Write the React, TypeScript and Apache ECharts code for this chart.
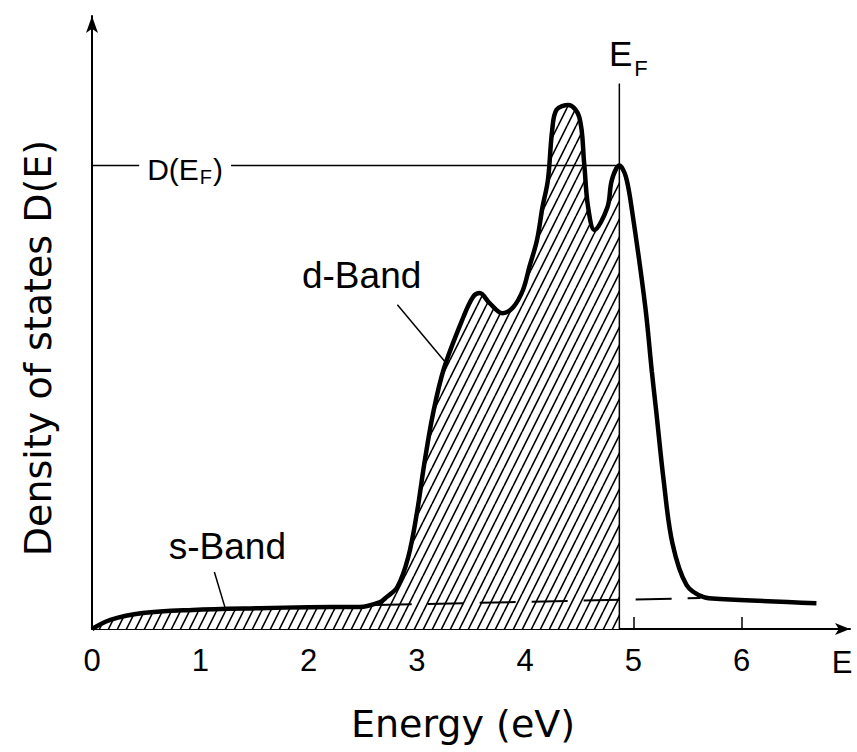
import React, { useEffect, useRef } from 'react';
import * as echarts from 'echarts';

// Energy (eV) and density of states (arbitrary units, 0..100)
const energy = [0, 0.17, 0.47, 0.93, 1.55, 2.0, 2.47, 2.66, 2.72, 2.82, 2.92, 3.0, 3.07, 3.15, 3.25, 3.43, 3.52, 3.58, 3.67, 3.79, 3.89, 3.98, 4.04, 4.11, 4.16, 4.21, 4.25, 4.29, 4.40, 4.50, 4.545, 4.58, 4.64, 4.76, 4.80, 4.87, 4.93, 4.99, 5.11, 5.17, 5.21, 5.28, 5.36, 5.49, 5.65, 5.80, 6.69];
const dos = [0, 1.5, 2.6, 3.1, 3.4, 3.55, 3.6, 4.4, 5.2, 6.85, 11.7, 18.9, 27.1, 35.2, 42.5, 50.9, 54.2, 54.8, 53.2, 51.5, 52.5, 55.3, 59.1, 63.5, 68.8, 73.2, 81.4, 84.7, 85.5, 83.5, 76.0, 69.0, 65.1, 68.8, 73.2, 75.6, 73.8, 67.9, 52.5, 42.0, 35.6, 24.1, 14.0, 7.2, 5.2, 4.9, 4.2];

// s-band continuation (dashed)
const sBandX = [2.62, 5.62];
const sBandY = [3.9, 5.05];

// Fermi energy and D(E_F)
const EF = 4.87;
const DEF = 75.6;
const EFLineTop = 89;

const xTicks = [0, 1, 2, 3, 4, 5, 6];

// annotation anchors (data coordinates)
const dBandLabel = [2.49, 57.6];
const sBandLabel = [1.25, 13.4];
const dBandLeader = [[2.82, 52.9], [3.26, 43.6]];
const sBandLeader = [[1.13, 9.3], [1.23, 3.4]];
const defLabel = [0.86, DEF];

function makeHatch() {
  const c = document.createElement('canvas');
  c.width = 9;
  c.height = 18;
  const ctx = c.getContext('2d')!;
  ctx.fillStyle = '#fff';
  ctx.fillRect(0, 0, 9, 18);
  ctx.strokeStyle = '#000';
  ctx.lineWidth = 1.6;
  ctx.beginPath();
  for (const dx of [-9, 0, 9]) {
    ctx.moveTo(dx, 18);
    ctx.lineTo(dx + 9, 0);
  }
  ctx.stroke();
  return c;
}

const TICK_FONT = 'Liberation Sans';
const TITLE_FONT = 'DejaVu Sans';
const plainLabel = { color: '#000', textBorderWidth: 0, textBorderColor: 'transparent', textShadowBlur: 0, opacity: 1 };

export default function App() {
  const ref = useRef<HTMLDivElement>(null);
  useEffect(() => {
    if (!ref.current) return;
    const chart = echarts.init(ref.current, null, { renderer: 'svg' });
    const curve = energy.map((e, i) => [e, dos[i]]);
    const filled = curve.filter((p) => p[0] <= EF + 1e-9);
    const hatch = makeHatch();
    const option: any = {
      animation: false,
      backgroundColor: '#fff',
      grid: { left: 92, right: 7, top: 16, bottom: 123 },
      xAxis: {
        type: 'value',
        min: 0,
        max: 7,
        interval: 1,
        axisLine: { show: true, onZero: true, symbol: ['none', 'arrow'], symbolSize: [9, 15], lineStyle: { color: '#000', width: 2 } },
        axisTick: { show: true, inside: true, length: 12, customValues: [1, 2, 3, 4, 5, 6], lineStyle: { color: '#000', width: 1.5 } },
        axisLabel: {
          customValues: xTicks,
          color: '#000',
          fontSize: 31,
          fontFamily: TICK_FONT,
          margin: 16,
          formatter: (v: number) => (v <= 6 ? String(v) : ''),
        },
        splitLine: { show: false },
      },
      yAxis: {
        type: 'value',
        min: 0,
        max: 100,
        axisLine: { show: true, symbol: ['none', 'arrow'], symbolSize: [9, 17], lineStyle: { color: '#000', width: 2 } },
        axisTick: { show: false },
        axisLabel: { show: false },
        splitLine: { show: false },
      },
      graphic: [
        {
          type: 'text',
          x: 463,
          y: 724,
          style: { text: 'Energy (eV)', fontSize: 38, fontFamily: TITLE_FONT, fill: '#000', textAlign: 'center', align: 'center', textVerticalAlign: 'middle', verticalAlign: 'middle' },
        },
        {
          type: 'text',
          x: 38,
          y: 348,
          rotation: Math.PI / 2,
          style: { text: 'Density of states D(E)', fontSize: 38, fontFamily: TITLE_FONT, fill: '#000', textAlign: 'center', align: 'center', textVerticalAlign: 'middle', verticalAlign: 'middle' },
        },
        {
          type: 'text',
          x: 842,
          y: 662,
          style: { text: 'E', fontSize: 31, fontFamily: TICK_FONT, fill: '#000', textAlign: 'center', align: 'center', textVerticalAlign: 'middle', verticalAlign: 'middle' },
        },
      ],
      series: [
        {
          type: 'line',
          data: filled,
          smooth: 0.35,
          symbol: 'none',
          silent: true,
          lineStyle: { width: 0, opacity: 0 },
          areaStyle: { color: { image: hatch, repeat: 'repeat', imageWidth: 9, imageHeight: 18 }, opacity: 1 },
          z: 1,
        },
        {
          type: 'line',
          data: sBandX.map((x, i) => [x, sBandY[i]]),
          symbol: 'none',
          silent: true,
          lineStyle: { color: '#000', width: 2, type: [36, 16] },
          z: 2,
        },
        {
          type: 'line',
          data: curve,
          smooth: 0.35,
          symbol: 'none',
          silent: true,
          lineStyle: { color: '#000', width: 4.5 },
          z: 3,
        },
        {
          type: 'line',
          data: [[EF, 0], [EF, EFLineTop]],
          symbol: 'none',
          silent: true,
          lineStyle: { color: '#000', width: 1.5 },
          z: 4,
        },
        {
          type: 'line',
          data: [[0, DEF], [EF, DEF]],
          symbol: 'none',
          silent: true,
          lineStyle: { color: '#000', width: 1.5 },
          z: 4,
        },
        {
          type: 'lines',
          coordinateSystem: 'cartesian2d',
          silent: true,
          lineStyle: { color: '#000', width: 1.5, opacity: 1 },
          data: [{ coords: dBandLeader }, { coords: sBandLeader }],
          z: 4,
        },
        {
          type: 'scatter',
          symbolSize: 0,
          silent: true,
          itemStyle: { color: '#000', opacity: 1 },
          z: 6,
          data: [
            {
              value: dBandLabel,
              label: { show: true, position: 'inside', formatter: 'd-Band', fontSize: 37, fontFamily: TICK_FONT, ...plainLabel },
            },
            {
              value: sBandLabel,
              label: { show: true, position: 'inside', formatter: 's-Band', fontSize: 37, fontFamily: TICK_FONT, ...plainLabel },
            },
            {
              value: [EF, EFLineTop],
              label: {
                show: true,
                position: 'top',
                distance: 4,
                offset: [9, 0],
                ...plainLabel,
                formatter: '{e|E}{f|F}',
                rich: {
                  e: { fontSize: 35, fontFamily: TICK_FONT, verticalAlign: 'top', ...plainLabel },
                  f: { fontSize: 22, fontFamily: TICK_FONT, verticalAlign: 'top', padding: [21, 0, 0, 2], ...plainLabel },
                },
              },
            },
            {
              value: defLabel,
              label: {
                show: true,
                position: 'inside',
                offset: [0, 5],
                ...plainLabel,
                formatter: '{a|D(E}{b|F}{a|)}',
                backgroundColor: '#fff',
                padding: [0, 8, 0, 8],
                rich: {
                  a: { fontSize: 30, fontFamily: TICK_FONT, verticalAlign: 'top', ...plainLabel },
                  b: { fontSize: 20, fontFamily: TICK_FONT, verticalAlign: 'top', padding: [13, 1, 0, 1], ...plainLabel },
                },
              },
            },
          ],
        },
      ],
    };
    chart.setOption(option);
    return () => chart.dispose();
  }, []);
  return <div ref={ref} style={{ position: 'fixed', left: 0, top: 0, width: 857, height: 752, background: '#fff' }} />;
}
